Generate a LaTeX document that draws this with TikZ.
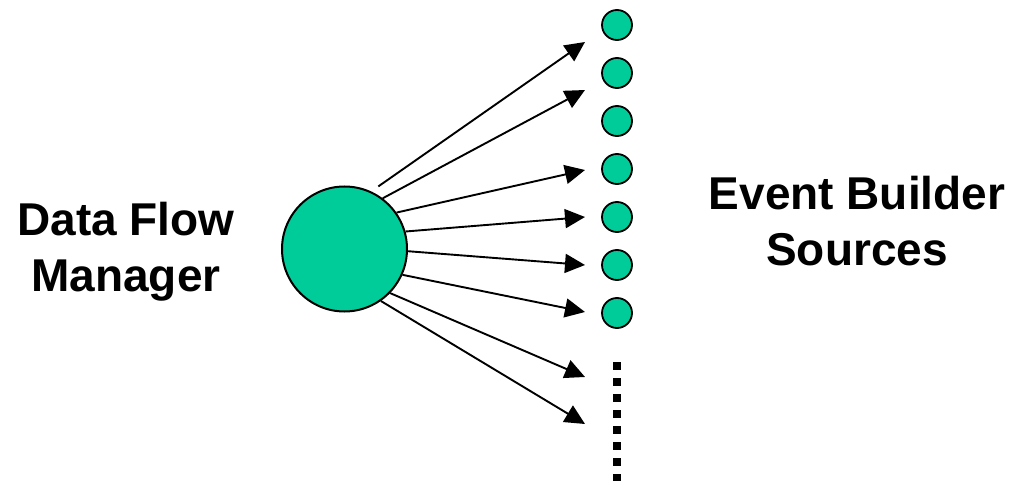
\documentclass[tikz,border=0pt]{standalone}
\usepackage{fontspec}
\setmainfont{Liberation Sans}
\usetikzlibrary{arrows.meta}
\definecolor{SourceGreen}{RGB}{0, 204, 153}

\begin{document}
\begin{tikzpicture}[x=1pt, y=-1pt,
        biglabel/.style={font=\fontsize{46}{56}\selectfont\bfseries, align=center, inner sep=0pt},
        manager/.style={circle, draw=black, line width=2pt, fill=SourceGreen, minimum size=125pt, inner sep=0pt},
        source/.style={circle, draw=black, line width=1.8pt, fill=SourceGreen, minimum size=30pt, inner sep=0pt},
        flow/.style={-{Triangle[length=20pt, width=19pt]}, line width=1.9pt},
        more/.style={line width=8.7pt, dash pattern=on 8pt off 8pt}]
        \useasboundingbox (0,0) rectangle (1014,481);
        % manager and its label
        \node[manager] (dfm) at (344.5,249) {};
        \node[biglabel] (dfmtext) at (126,252) {Data Flow\\Manager};
        % sources
        \node[source] (s1) at (617,25) {};
        \node[source] (s2) at (617,73) {};
        \node[source] (s3) at (617,121) {};
        \node[source] (s4) at (617,169) {};
        \node[source] (s5) at (617,217) {};
        \node[source] (s6) at (617,265) {};
        \node[source] (s7) at (617,313) {};
        \node[biglabel] (ebtext) at (857,221) {Event Builder\\Sources};
        \coordinate (dotstop) at (617,362);
        \coordinate (dotsbot) at (617,485);
        \draw[more] (dotstop) -- (dotsbot);
        % arrow tips
        \coordinate (t1) at (585,42);
        \coordinate (t2) at (585,90);
        \coordinate (t3) at (585,170);
        \coordinate (t4) at (585,217);
        \coordinate (t5) at (585,265);
        \coordinate (t6) at (585,312);
        \coordinate (t7) at (585,377);
        \coordinate (t8) at (585,424);
        \draw[flow] ([shift={(5,-6)}]dfm.63) -- (t1);
        \draw[flow] (dfm.53) -- (t2);
        \draw[flow] (dfm.35) -- (t3);
        \draw[flow] (dfm.16) -- (t4);
        \draw[flow] (dfm.-2) -- (t5);
        \draw[flow] (dfm.-24) -- (t6);
        \draw[flow] (dfm.-44) -- (t7);
        \draw[flow] (dfm.-55) -- (t8);
\end{tikzpicture}
\end{document}
